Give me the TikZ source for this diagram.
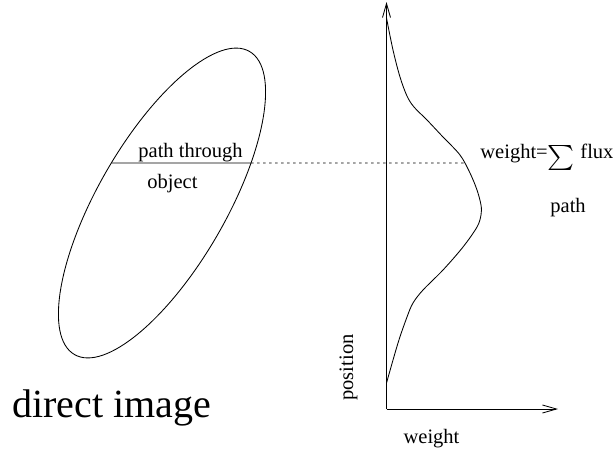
\documentclass[tikz,border=0pt]{standalone}
\usepackage{fontspec}
\setmainfont{Liberation Serif}
\usepackage{graphicx}
\usetikzlibrary{arrows.meta,intersections}
\begin{document}
\begin{tikzpicture}[x=1pt,y=1pt,
  line width=0.85pt,
  lbl/.style={font=\fontsize{20.5}{24}\selectfont, inner sep=0pt},
  big/.style={font=\fontsize{40}{48}\selectfont, inner sep=0pt},
  axisarrow/.style={-{Straight Barb[length=14pt,width=8pt,line width=0.85pt]}},
  dotline/.style={dash pattern=on 2.5pt off 3.5pt}
]
\useasboundingbox (0,0) rectangle (613,-451);

% object (tilted ellipse)
\draw[name path=ell, rotate around={60:(162,-203)}] (162,-203) ellipse [x radius=175pt, y radius=64pt];

% path through object
\path[name path=hl] (90,-163) -- (300,-163);
\path[name intersections={of=ell and hl, by={p1,p2}, sort by=hl}];
\draw (p1) -- (p2);

% axes
\coordinate (O) at (386.5,-409);
\coordinate (ytop) at (386.5,-2);
\coordinate (xend) at (558,-409);
\draw[axisarrow] (O) -- (ytop);
\draw[axisarrow] (O) -- (xend);

% profile curve
\draw[name path=curve] plot[smooth, tension=0.55] coordinates {
  (386.5,-18) (393,-50) (400,-77) (407,-96) (414,-107) (427,-120) (443,-137)
  (460,-155) (470,-173) (477,-190) (481,-205) (481,-215) (477,-227) (463,-247)
  (443,-270) (423,-290) (413,-303) (407,-317) (398,-343) (386.5,-383)};

% dotted projection line
\path[name path=dl] (255,-163) -- (520,-163);
\path[name intersections={of=curve and dl, by={q}}];
\draw[dotline] (p2) -- (q);

% labels
\node[lbl, anchor=base west] (pt) at (138,-157) {path through};
\node[lbl, anchor=base west] (ob) at (147,-188) {object};
\node[lbl, anchor=base west] (wq) at (480,-158) {weight=};
\node[inner sep=0pt] (sum) at (561,-157.5) {\resizebox*{27pt}{25pt}{$\sum$}};
\node[lbl, anchor=base west] (fl) at (580,-158) {flux};
\node[lbl, anchor=base west] (pa) at (550,-212) {path};
\node[lbl, anchor=base, rotate=90] (pos) at (353,-367.5) {position};
\node[lbl, anchor=base] (wt) at (431.5,-443) {weight};
\node[big, anchor=base west] (di) at (12,-417) {direct image};
\end{tikzpicture}
\end{document}
